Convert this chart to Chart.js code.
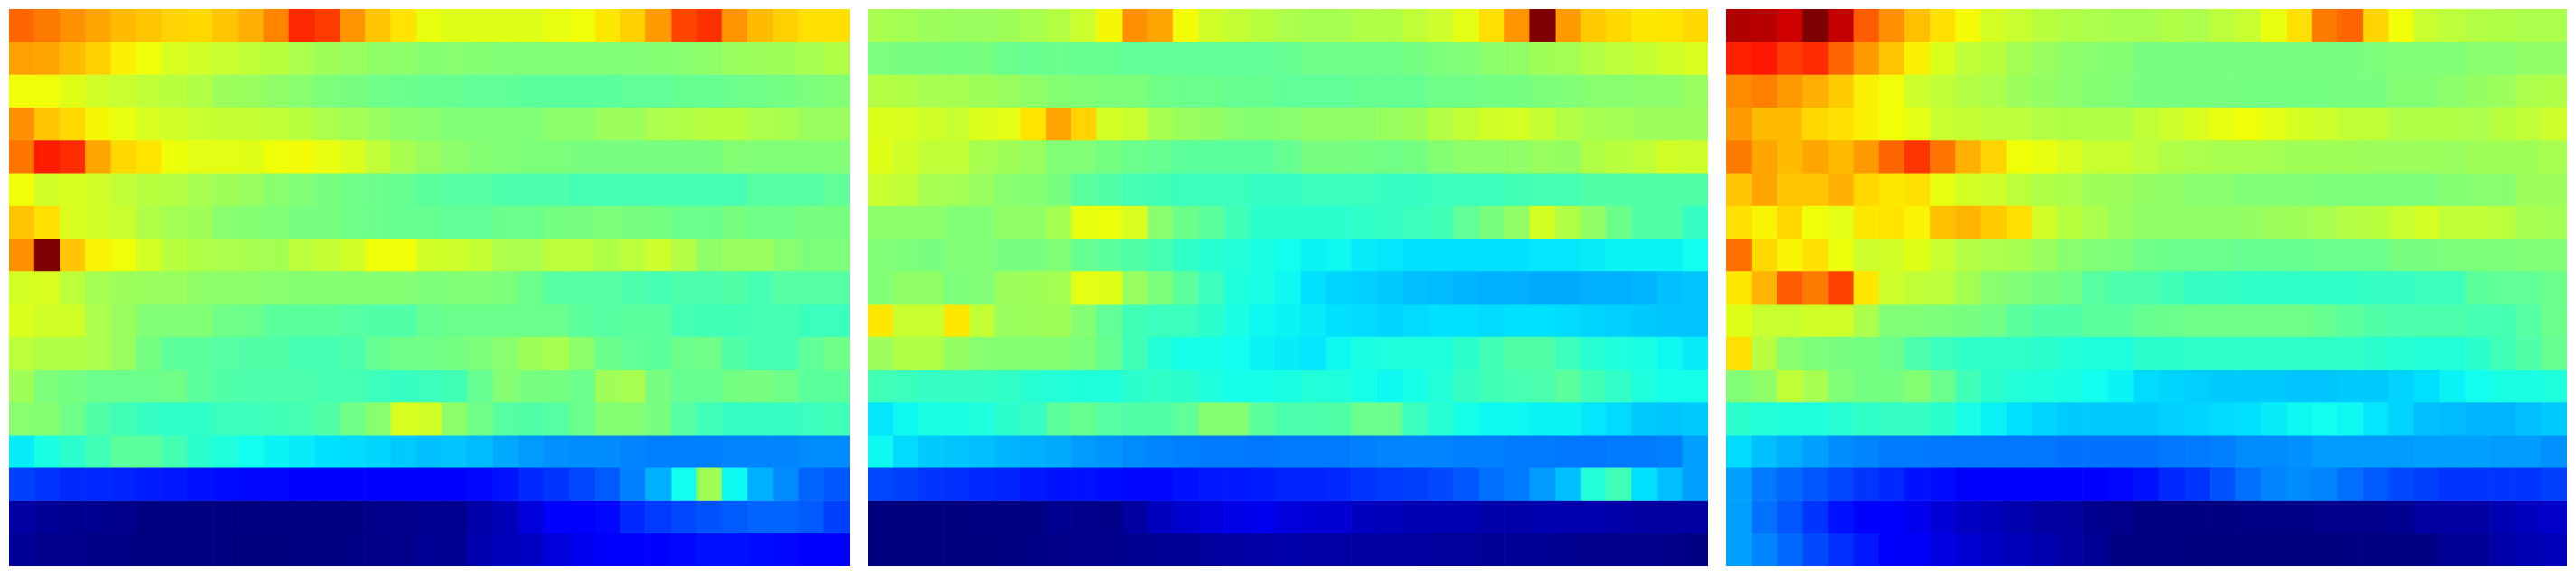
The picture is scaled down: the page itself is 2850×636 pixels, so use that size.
<!DOCTYPE html>
<html>
<head>
<meta charset="utf-8">
<title>Heatmaps</title>
<script src="https://cdn.jsdelivr.net/npm/chart.js@4"></script>
<style>
  html, body { margin: 0; background: #fff; }
  body { width: 2850px; height: 636px; overflow: hidden; position: relative; }
  canvas { position: absolute; top: 10px; }
</style>
</head>
<body>
<canvas id="panelA" width="930" height="616" style="left:10px"></canvas>
<canvas id="panelB" width="930" height="616" style="left:960px"></canvas>
<canvas id="panelC" width="930" height="616" style="left:1910px"></canvas>
<script>
// cell values, 0 = darkest blue, 100 = darkest red
const panelA = [
  [78,76,74,72,70,69,67.5,67,69,71,75,84,82,73.5,69,65.5,61,60,60,60,60,61,62,65,68,73,81,83,73.5,70,68,66,66],
  [72.5,72,70,68,64,62,59,58,57,56,55,53.5,52,51,50,49.5,48.5,49,48.5,48,48,48,48,48,48,48.5,49,50,51,51.5,52,53,54],
  [62,62,60,58,57,56,55,54,51.5,51,50,49,47.5,47,46,45.5,45,45,44.5,44.5,44,44,44,44,44.5,44.5,45,45,45.5,46,46.5,47.5,48],
  [74,69,67,63,61,59,58,57,56.5,56.5,56,55,53.5,52.5,51,49.5,49,48,48,48,48,49.5,49.5,51.5,51.5,53.5,54,55,55,53.5,53,51,51],
  [76.5,85.5,83.5,72,67,65.5,61.5,60.5,60.5,60,62,62.5,61,59.5,56,53,51,49.5,48.5,48,47.5,47.5,47,47,47,47,47,47,48.5,48,48,48,48],
  [62,58,59,58,56,55,54.5,53,52,51,49,48,47,46,45.5,45,44,43.5,43.5,42.5,42.5,42.5,42,42,42,42,42,42,42,43.5,43.5,43.5,44.5],
  [69,66,59,58,57,54,52.5,52,49,48.5,48,47,47,46,45.5,45,45,44.5,44.5,45.5,45.5,46.5,47,47.5,47,46.5,45.5,45.5,47,46,46,47,47],
  [74,100,69,63.5,62,58.5,55,54,53.5,53,52.5,55.5,56.5,58,62,62,58,57.5,56.5,53.5,53.5,55.5,55.5,54,55.5,57.5,54.5,50,51,51,49,47.5,47.5],
  [58.5,59,55.5,52.5,51.5,51,51,50,49.5,49.5,49,48.5,48.5,48.5,48.5,48.5,47.5,48,48,47.5,45.5,43.5,43.5,43.5,42.5,42,42.5,42.5,43,42,43.5,43.5,43.5],
  [59.5,58,58,53.5,51,48,48,48,46,45.5,44,44,44,43.5,43,43,45,45.5,45.5,45.5,45.5,45.5,44,43.5,44,44,42,41.5,41.5,42,42,41,41],
  [55.5,54,54,53.5,51,46.5,44,44,43.5,43,43,42,42,42.5,45,46,46,46.5,47.5,49,52,53,49.5,45.5,44.5,44,45.5,46,43,42,42,44.5,46],
  [52,47.5,46.5,45.5,45.5,45.5,46,44,43,42.5,42.5,42.5,42,42,41,40.5,41,41.5,45,48.5,47,46.5,45.5,52,53,47,45,45,46.5,47,46,44,44],
  [49,48.5,46,43,41.5,40.5,40,40,41,41,41.5,42,43,46,49,59,58,49.5,46,43.5,43,43.5,45.5,48.5,48.5,47,43.5,41.5,40.5,40.5,40.5,41,41.5],
  [35,37.5,39.5,41.5,44,44,42,39.5,38,36.5,35.5,35,34,33.5,33,32,31,31.5,30.5,29,27.5,26.5,26,26,25.5,25,25,25,25.5,25.5,25.5,26,26],
  [18,17,16,16,15.5,15,14.5,14,13.5,13,13,12.5,12.5,12,12,12,12,12,13,14,16,17,18.5,21,25,29.5,36.5,52,36,29.5,26,22,20.5],
  [3,2,1.5,1.5,1,0.3,0.3,0.3,0.2,0.2,0.4,0.5,0.4,0.5,1,1,1.5,1.5,3.5,5,8,11,11.5,13,16,17.5,18.5,20,21,22,22,21,18],
  [2,1,1,0.6,0.6,0.3,0.1,0.1,0.1,0,0,0.3,0.4,0.6,0.8,1,2,1.5,4,5,6,8,9.5,11,12,12,13,14,14,13.5,13,12,12],
];

const panelB = [
  [53,52.5,51.5,51,51,52,53,54.5,57.5,63,74,72,62.5,58,56.5,55,53.5,53,53,54,54,56,57.5,60.5,66,73.5,100,73,68.5,67,65,65.5,67],
  [47.5,47,47,46.5,47,45.5,45,45.5,45,45,44.5,44.5,44.5,44.5,44.5,44.5,45,46,46,46,46,46.5,47.5,48,49.5,50,52,52.5,54.5,55.5,56.5,58,59],
  [54.5,54,53,53,52,51,50,48.5,48,47.5,47.5,46,45.5,45.5,45,45,44.5,44.5,44.5,45,45,45,46,46,46.5,46.5,47.5,48,49,49,49.5,49.5,51],
  [59.5,59,58,57,59.5,60.5,65.5,72,67.5,58.5,57,53,51,50.5,49,48.5,49,50,50,50,51,52,54.5,56,58,58.5,56.5,54.5,53,52.5,51.5,51.5,51.5],
  [60,58,56,56,53,52,51,48,48,46.5,45.5,45,44,44,44,44,45,47,47,46.5,46,46.5,48.5,49.5,49.5,50,51,50.5,54,55,56,58,57.5],
  [57,56,53,52.5,51,49,48.5,47,44,43,42,41.5,41,41,41,40.5,40.5,41,41,41,40.5,40.5,41,41,41,41.5,42,42,43,43,43,43,43],
  [49.5,49.5,49.5,48,48,50,50,52.5,61,61.5,59,49,45.5,44,41.5,39.5,39.5,39.5,39.5,40,40.5,41,41.5,44.5,47,50,58.5,54,50,45.5,43,43,40.5],
  [48,47.5,47,48,48,47,47,48,45,44,43,42,40,39,38.5,37.5,36.5,35.5,36,35,34.5,34,34,34,34,34,34.5,34.5,35,35.5,35.5,35.5,36.5],
  [48,50,50,47.5,48,51.5,52,52.5,60.5,60,51,47.5,44,41,38,37.5,36,34,33,32.5,32,31,30.5,30,29.5,29.5,29,29,29.5,29.5,30,31,31.5],
  [65,57,57,65,56.5,51,51.5,52,48.5,44.5,41.5,41,41,39.5,37.5,36,35.5,35,34,33.5,33,33.5,34,34,33.5,34,34,33.5,33,32.5,32,31.5,31.5],
  [51.5,54,54,50.5,49,48.5,48.5,48.5,47.5,45,41.5,38.5,37,37,36.5,35.5,35,34.5,36,37.5,38,38,38,39.5,41.5,43,43,41,39,38,37.5,36,35],
  [41.5,41,40.5,40.5,40.5,40,39,38.5,38,38,39.5,40,39.5,38,37,37,37.5,38.5,38,37,36,37,38.5,40.5,41.5,42,42.5,44,41.5,40,38,37,37],
  [34.5,36,37.5,37.5,38,39.5,40.5,44,45,43.5,43,43,44.5,48.5,48.5,44,42.5,42.5,43,45.5,45.5,41,39,37,36,36,35.5,35.5,34.5,33.5,32,31.5,32],
  [36,33.5,32,31.5,31,30,29.5,29,27.5,27,26,25.5,25,24.5,24.5,24,24.5,24.5,24.5,25,25.5,25.5,25.5,25,25,24.5,24.5,24,24,24.5,24.5,25,28],
  [19,18,17,16.5,16,15.5,14.5,14,14,13.5,13,13,14,14.5,14.5,15,15.5,15.5,16,17,17.5,18,19,20.5,23,24.5,27.5,31,38.5,41.5,34,31,28],
  [0,0,0,0,0.2,0.3,0.4,1.5,1,0.8,3,5.5,7,8,9,9.5,8,7.5,7,5.5,5,4.5,4.5,4.5,3.5,3.5,4,4,4,3.5,3,3,3],
  [0,0,0,0,0,0.5,0.7,0.8,1,1.2,1.5,1.8,2,2.5,3,3.2,3.5,3.2,3.2,3,3,2.8,2.5,2.5,2,2,2,1.5,1.2,1.2,1,0.8,0.5],
];

const panelC = [
  [96,95.5,93.5,100,94.5,79,74,69.5,66,62.5,58.5,57,55,54,53.5,53,53,54,53.5,55.5,57,61,66,76,78,67.5,62,57,55.5,54.5,54,53.5,53.5],
  [85,86,82,83.5,78,73,69,64,59.5,56,55,52.5,51,49.5,49,48.5,47,47,47,47,47,47,47,47,47,47.5,48,48,48,49,49,50,50],
  [74.5,75.5,73,71,68.5,64,62,57.5,56,54.5,53.5,51.5,50.5,49.5,48.5,48,47,47,47,47,46.5,46.5,46.5,46.5,47,47,48.5,48.5,49.5,50.5,51.5,53.5,54],
  [73,70,70,67,66,64,62,60.5,57,56.5,55.5,55.5,54.5,54,54,54,56,57.5,59,61,62,60.5,58.5,57.5,56,56,54,54,54,53.5,55,56,57.5],
  [76,72,70,72,70,73,78,82.5,76.5,71,67.5,62,61,59,57,57,55.5,54,53.5,53,53,52.5,52,52,52,51.5,51.5,51.5,51,52,52,52,53],
  [69,72,69,69,71,67,65,66,61,58.5,57.5,55.5,54,53.5,52,51.5,50.5,50,49,49,48,48,48,47.5,47.5,47.5,47.5,47.5,48.5,49,49,51.5,51.5],
  [66,63.5,67,62,60.5,65,65.5,63.5,69.5,70.5,68.5,66,58,55,53.5,51,50,50,50,50,50.5,51.5,52,53,54.5,55,57,58.5,56,56,55.5,53,52.5],
  [77,67,63.5,66,61.5,57.5,58,60,57,54.5,53.5,53,51,49,48,47.5,46,45.5,45.5,45.5,45,45,45,45.5,45.5,45.5,47,47,47.5,47.5,47.5,48,48],
  [65,70.5,79,76,81.5,65,57.5,56,55.5,52.5,49,48,47,46,43.5,42.5,42.5,41.5,40.5,40.5,40,40,40,40,40,40.5,40.5,41,41,44,44.5,44.5,45.5],
  [60,57,57,58,58,53.5,48,48,47.5,47,46,44,43,43,44,44,45,45.5,46,46,46,46,46,45,44,43,42.5,42.5,42.5,42,42,43.5,45.5],
  [66,55,49,47.5,47,46.5,45.5,42.5,41,40,40,40,39.5,38.5,38,38,39.5,39.5,40,40,40,40,40,40,40,39.5,39,38.5,38.5,39.5,41.5,43,45],
  [48,50,56,53,48,46.5,46.5,48.5,45.5,41.5,39.5,38.5,38,37.5,36.5,35.5,33.5,33,32.5,32,32,32,31.5,31.5,32,32,33,34,35.5,36.5,37.5,37.5,38],
  [39.5,38.5,38,38,39,40,40.5,40.5,39.5,37.5,35.5,34,33,32,32,32,32,32.5,33,33.5,34,35,36,36.5,36,34.5,33,31,30.5,30,30,31,32],
  [33.5,31,29.5,28,26,25.5,24.5,24.5,24,24,24,24,24,23.5,23.5,23.5,23.5,24,24.5,25,26,26,26.5,27.5,27.5,27.5,27.5,28,28,28,27.5,27.5,26.5],
  [28,24.5,22.5,20.5,18.5,17,16,14,13.5,12,11.5,11.5,11.5,11.5,12,13,14,16,17,20,23,25.5,26,25.5,23,21,19,18,17,17,17,17,18],
  [28,23.5,20.5,17,14,11.5,11,9.5,7.5,6,5,4,3,2.5,1.5,1,0.3,0.2,0.2,0.2,0.6,0.6,0.6,1,1,1,1.5,3,3,3,4.5,5.5,6.5],
  [28,25.5,22.5,19,16.5,14.5,12,10.5,8.5,7,6,5,4,3,2,0.5,0.1,0.2,0,0,0,0,0,0,0.1,0.2,0.3,0.5,2,2,3.5,4.5,5],
];

const columnLabels = panelA[0].map((_, i) => String(i + 1));

// colour scale: value stops and the colour each one maps to
const scaleStops = [0, 11, 12.5, 18, 25, 31, 34, 36.5, 40, 43, 46, 48, 50, 52, 54, 56, 58, 60, 62, 65, 68, 71, 74, 77, 80, 83, 87, 92, 95, 97, 100];
const scaleColors = [
  [0, 0, 127], [0, 0, 255], [0, 0, 255], [0, 64, 255], [0, 128, 255], [0, 192, 255], [0, 224, 255], [16, 255, 239],
  [48, 255, 199], [80, 255, 167], [112, 255, 135], [128, 255, 119], [144, 255, 103], [160, 255, 87], [176, 255, 71],
  [192, 255, 55], [208, 255, 39], [224, 255, 23], [240, 255, 7], [255, 232, 0], [255, 208, 0], [255, 176, 0],
  [255, 144, 0], [255, 112, 0], [255, 80, 0], [255, 48, 0], [255, 16, 0], [224, 0, 0], [192, 0, 0], [160, 0, 0], [127, 0, 0],
];

function cellColor(v) {
  let i = 1;
  while (i < scaleStops.length - 1 && v > scaleStops[i]) i++;
  const t = (v - scaleStops[i - 1]) / (scaleStops[i] - scaleStops[i - 1]);
  const rgb = scaleColors[i].map((c, k) => Math.round(scaleColors[i - 1][k] + (c - scaleColors[i - 1][k]) * t));
  return `rgb(${rgb.join(",")})`;
}

function drawPanel(canvasId, rows) {
  new Chart(document.getElementById(canvasId), {
    type: "bar",
    data: {
      labels: columnLabels,
      datasets: rows.map((row, r) => ({
        data: row.map(() => [r, r + 1]),
        backgroundColor: row.map(cellColor),
        borderWidth: 0,
        barPercentage: 1,
        categoryPercentage: 1,
      })),
    },
    options: {
      responsive: false,
      animation: false,
      layout: { padding: 0 },
      plugins: { legend: { display: false }, tooltip: { enabled: false } },
      scales: {
        x: { display: false, stacked: true, offset: true },
        y: { display: false, min: 0, max: rows.length, reverse: true },
      },
    },
  });
}

drawPanel("panelA", panelA);
drawPanel("panelB", panelB);
drawPanel("panelC", panelC);
</script>
</body>
</html>
